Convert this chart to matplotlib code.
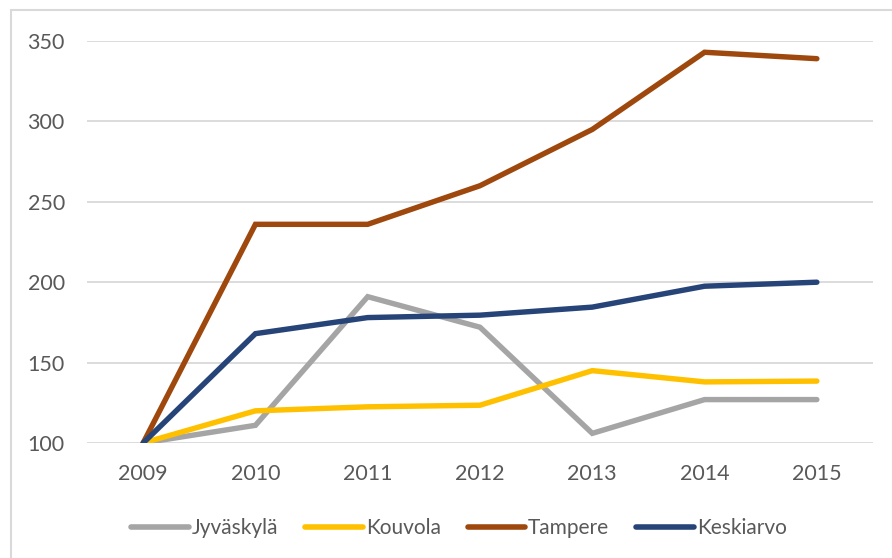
import matplotlib
matplotlib.use("Agg")
import matplotlib.pyplot as plt
from matplotlib.patches import Rectangle

years = ["2009", "2010", "2011", "2012", "2013", "2014", "2015"]
jyvaskyla = [100, 111, 191, 172, 106, 127, 127]
kouvola = [100, 120, 122.5, 123.5, 145, 138, 138.5]
tampere = [100, 236, 236, 260, 295, 343, 339]
keskiarvo = [100, 168, 178, 179.5, 184.5, 197.5, 200]
series_names = ["Jyväskylä", "Kouvola", "Tampere", "Keskiarvo"]
colors = ["#A5A5A5", "#FFC000", "#9E480E", "#264478"]
yticks = [100, 150, 200, 250, 300, 350]

plt.rcParams['font.family'] = ['Lato', 'DejaVu Sans']
W, H = 892, 558
fig = plt.figure(figsize=(W / 100, H / 100), dpi=100)
fig.patch.set_facecolor("white")

# chart border (left & top visible)
fig.patches.append(Rectangle((11 / W, -0.05), 1.2, 1.05 - 10 / H,
                             transform=fig.transFigure, fill=False,
                             edgecolor="#D9D9D9", lw=1.5, zorder=0))

ax = fig.add_axes([87 / W, 1 - 443 / H, (873 - 87) / W, (443 - 41) / H])
x = list(range(len(years)))
for vals, name, c in zip([jyvaskyla, kouvola, tampere, keskiarvo], series_names, colors):
    ax.plot(x, vals, color=c, lw=3.9, label=name, solid_capstyle="round",
            solid_joinstyle="miter", zorder=3)

ax.set_xlim(-0.5, len(years) - 0.5)
ax.set_ylim(100, 350)
ax.set_yticks(yticks)
ax.set_xticks(x)
ax.set_xticklabels(years)
ax.grid(axis="y", color="#D9D9D9", lw=1.3, zorder=0)
for s in ax.spines.values():
    s.set_visible(False)
ax.tick_params(length=0, labelsize=15.5, labelcolor="#595959")
ax.tick_params(axis="y", pad=16)
ax.tick_params(axis="x", pad=15)

leg = fig.legend(loc="center", bbox_to_anchor=(459 / W, 1 - 528 / H), ncol=4,
                 frameon=False, fontsize=15, handlelength=2.75,
                 handletextpad=0.15, columnspacing=1.3)
for t in leg.get_texts():
    t.set_color("#595959")
for l in leg.get_lines():
    l.set_linewidth(4)

fig.savefig("out.png", dpi=100)
